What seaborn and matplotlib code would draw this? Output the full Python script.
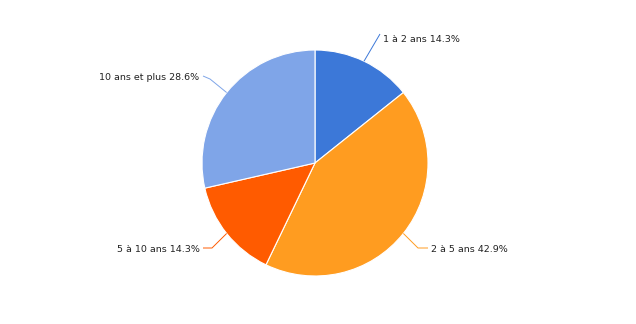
import matplotlib
matplotlib.use("Agg")
import matplotlib.pyplot as plt
import seaborn as sns
import numpy as np

categories = ["1 à 2 ans", "2 à 5 ans", "5 à 10 ans", "10 ans et plus"]
values = [14.3, 42.9, 14.3, 28.6]
colors = ["#3c78d8", "#ff9c20", "#ff5b00", "#7fa5e8"]

sns.set_theme(style="white")
plt.rcParams['font.family'] = ['DejaVu Sans']

W, H = 636, 324
fig = plt.figure(figsize=(W / 100, H / 100), dpi=100)
ax = fig.add_axes([0, 0, 1, 1])
R = 113.0
cx, cy = 315.0, 163.0

wedges, _ = ax.pie(values, colors=colors, startangle=90, counterclock=False,
                   radius=1.0, wedgeprops=dict(edgecolor="white", linewidth=0.8))
ax.set_xlim(-cx / R, (W - cx) / R)
ax.set_ylim(-(H - cy) / R, cy / R)
ax.set_aspect("auto")
ax.set_axis_off()


def px(x, y):
    """pixel (from top-left) -> data coords"""
    return (x - cx) / R, (cy - y) / R


# leader line layout in pixels: elbow, end of horizontal, text anchor, alignment
layout = [
    dict(pts=[(380, 34)], text=(383, 40), ha="left"),
    dict(pts=[(418, 248), (428, 248)], text=(431, 249), ha="left"),
    dict(pts=[(212, 248), (203, 248)], text=(200, 249), ha="right"),
    dict(pts=[(210, 79), (203, 76)], text=(199, 78), ha="right"),
]
total = sum(values)
start = 90.0
for cat, v, col, cfg in zip(categories, values, colors, layout):
    ang = start - v / total * 360 / 2
    start -= v / total * 360
    a = np.deg2rad(ang)
    xs, ys = [np.cos(a)], [np.sin(a)]
    for p in cfg["pts"]:
        dx, dy = px(*p)
        xs.append(dx); ys.append(dy)
    ax.plot(xs, ys, color=col, lw=0.7, solid_capstyle="butt")
    tx, ty = px(*cfg["text"])
    ax.text(tx, ty, f"{cat} {v:.1f}%", ha=cfg["ha"], va="center",
            fontsize=6.8, color="#222222")

fig.savefig("out.png", dpi=100)
